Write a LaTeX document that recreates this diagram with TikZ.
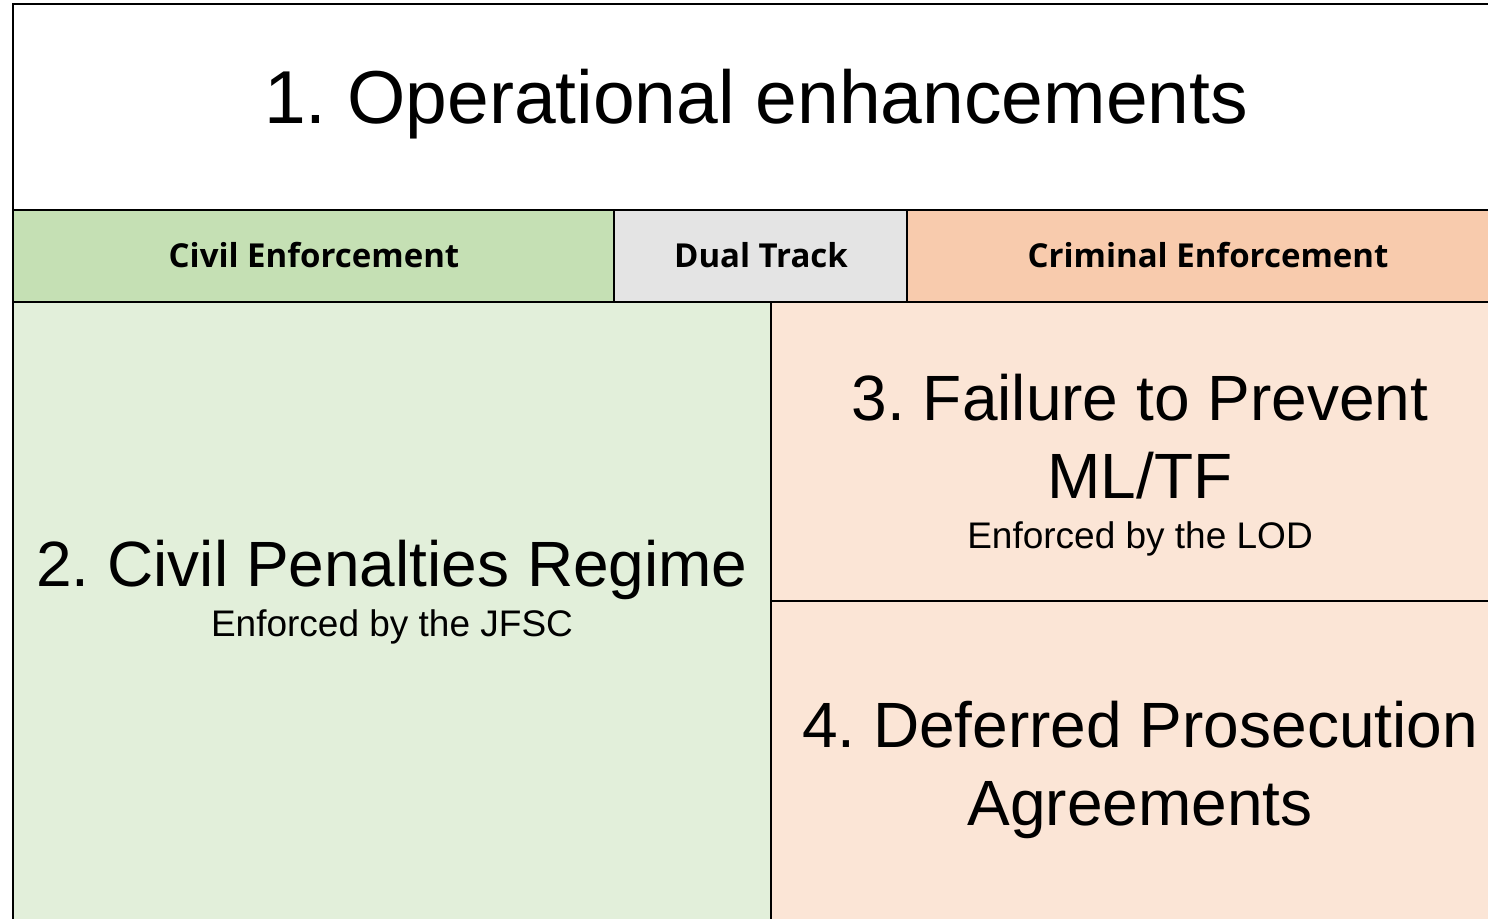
\documentclass[tikz,border=0pt]{standalone}
\usepackage{fontspec}
\setmainfont{Liberation Sans}
\newfontfamily\headfont{Open Sans}
\usepackage{tikz}
\usetikzlibrary{positioning}
\frenchspacing
\definecolor{civilhead}{HTML}{C5E0B4}
\definecolor{dualhead}{HTML}{E4E4E4}
\definecolor{crimhead}{HTML}{F8CBAD}
\definecolor{civilbody}{HTML}{E2EFDA}
\definecolor{crimbody}{HTML}{FBE5D6}
\tikzstyle{cell}=[
	 draw, line width=2pt,
	 inner sep=0pt, outer sep=0pt,
	 anchor=north west
    ]
\tikzstyle{head}=[font=\headfont\bfseries\fontsize{33}{40}\selectfont, anchor=base]
\tikzstyle{big}=[font=\fontsize{64}{78}\selectfont, align=center, anchor=base]
\tikzstyle{sub}=[font=\fontsize{37}{44}\selectfont, anchor=base]

\begin{document}
\begin{tikzpicture}[x=1pt, y=-1pt]
\useasboundingbox (0,0) rectangle (1488,918);
\clip (0,0) rectangle (1488,918);

\node[cell, fill=white, minimum width=1496pt, minimum height=206pt] (ops) at (13,4) {};
\node[cell, fill=civilhead, minimum width=601pt, minimum height=92pt] (civil) at (ops.south west) {};
\node[cell, fill=dualhead, minimum width=293pt, minimum height=92pt] (dual) at (civil.north east) {};
\node[cell, fill=crimhead, minimum width=602pt, minimum height=92pt] (crim) at (dual.north east) {};
\node[cell, fill=civilbody, minimum width=758pt, minimum height=700pt] (cpr) at (civil.south west) {};
\node[cell, fill=crimbody, minimum width=738pt, minimum height=299pt] (ftp) at (cpr.north east) {};
\node[cell, fill=crimbody, minimum width=738pt, minimum height=320pt] (dpa) at (ftp.south west) {};

\node[font=\fontsize{75}{90}\selectfont, anchor=base] (opstext) at (756,123) {1. Operational enhancements};
\node[head] (civiltext) at (314,267) {Civil Enforcement};
\node[head] (dualtext) at (761,267) {Dual Track};
\node[head] (crimtext) at (1208,267) {Criminal Enforcement};

% multi-line nodes sit on their last line
\node[big] (cprtext) at (392,586) {2. Civil Penalties Regime};
\node[sub] (cprsub) at (392,636) {Enforced by the JFSC};
\node[big] (ftptext) at (1140,498) {3. Failure to Prevent\\ML/TF};
\node[sub] (ftpsub) at (1140,548) {Enforced by the LOD};
\node[big] (dpatext) at (1140,825) {4. Deferred Prosecution\\Agreements};

\end{tikzpicture}
\end{document}
